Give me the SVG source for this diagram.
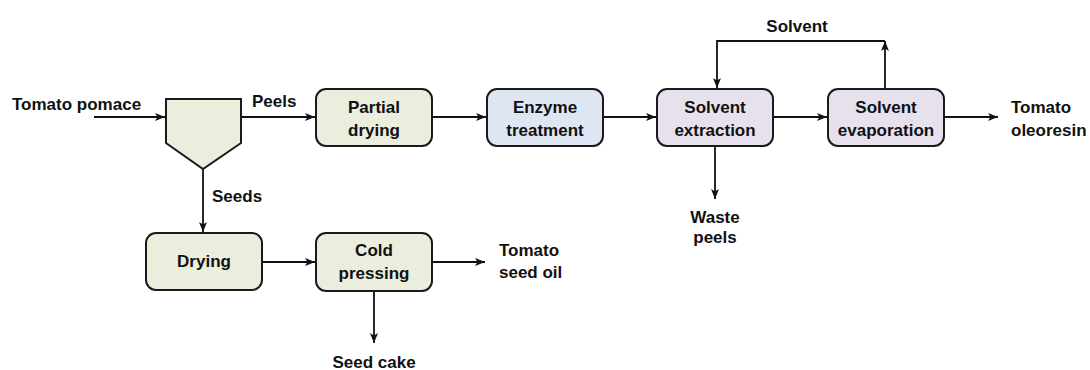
<svg xmlns="http://www.w3.org/2000/svg" width="1090" height="370" viewBox="0 0 1090 370">
<defs>
<marker id="arr" markerWidth="12" markerHeight="10" refX="10" refY="4" orient="auto" markerUnits="userSpaceOnUse">
<path d="M0,0 L10,4 L0,8 L2.5,4 z" fill="#111"/>
</marker>
<style>
text{font-family:"Liberation Sans",Arial,sans-serif;font-weight:bold;font-size:17px;fill:#111}
.c{text-anchor:middle}
.box{stroke:#1a1a1a;stroke-width:2}
.g{fill:#ebeedd}
.b{fill:#dde6f2}
.p{fill:#e6e1ed}
.ln{fill:none;stroke:#111;stroke-width:1.8;marker-end:url(#arr)}
</style>
</defs>
<rect width="1090" height="370" fill="#fff"/>
<g id="connectors">
<path class="ln" d="M94,117 H165"/>
<path class="ln" d="M241,117 H315"/>
<path class="ln" d="M432,117 H486"/>
<path class="ln" d="M603,117 H656"/>
<path class="ln" d="M773,117 H827"/>
<path class="ln" d="M944,117 H998"/>
<path class="ln" d="M885,89 V41"/>
<path class="ln" d="M885,41 H717 V88"/>
<path class="ln" d="M715,147 V199"/>
<path class="ln" d="M203,169 V232"/>
<path class="ln" d="M262,262 H315"/>
<path class="ln" d="M432,262 H485"/>
<path class="ln" d="M374,291 V343"/>
</g>
<g id="separator">
<polygon class="box g" points="166,99 241,99 241,143 203,169 166,143"/>
</g>
<g id="partial-drying">
<rect class="box g" x="316" y="89" width="116" height="57" rx="10"/>
<text class="c" x="374" y="113">Partial</text>
<text class="c" x="374" y="136">drying</text>
</g>
<g id="enzyme-treatment">
<rect class="box b" x="487" y="89" width="116" height="57" rx="10"/>
<text class="c" x="545" y="113">Enzyme</text>
<text class="c" x="545" y="136">treatment</text>
</g>
<g id="solvent-extraction">
<rect class="box p" x="657" y="89" width="116" height="57" rx="10"/>
<text class="c" x="715" y="113">Solvent</text>
<text class="c" x="715" y="136">extraction</text>
</g>
<g id="solvent-evaporation">
<rect class="box p" x="828" y="89" width="116" height="57" rx="10"/>
<text class="c" x="886" y="113">Solvent</text>
<text class="c" x="886" y="136">evaporation</text>
</g>
<g id="drying">
<rect class="box g" x="146" y="233" width="116" height="57" rx="10"/>
<text class="c" x="204" y="267">Drying</text>
</g>
<g id="cold-pressing">
<rect class="box g" x="316" y="233" width="116" height="58" rx="10"/>
<text class="c" x="374" y="256">Cold</text>
<text class="c" x="374" y="279">pressing</text>
</g>
<g id="labels">
<text x="12" y="110">Tomato pomace</text>
<text x="252" y="107">Peels</text>
<text x="212" y="202">Seeds</text>
<text class="c" x="797" y="32">Solvent</text>
<text x="1011" y="113">Tomato</text>
<text x="1011" y="136">oleoresin</text>
<text class="c" x="715" y="223">Waste</text>
<text class="c" x="715" y="243">peels</text>
<text x="499" y="256">Tomato</text>
<text x="499" y="278">seed oil</text>
<text class="c" x="374" y="368">Seed cake</text>
</g>
</svg>
